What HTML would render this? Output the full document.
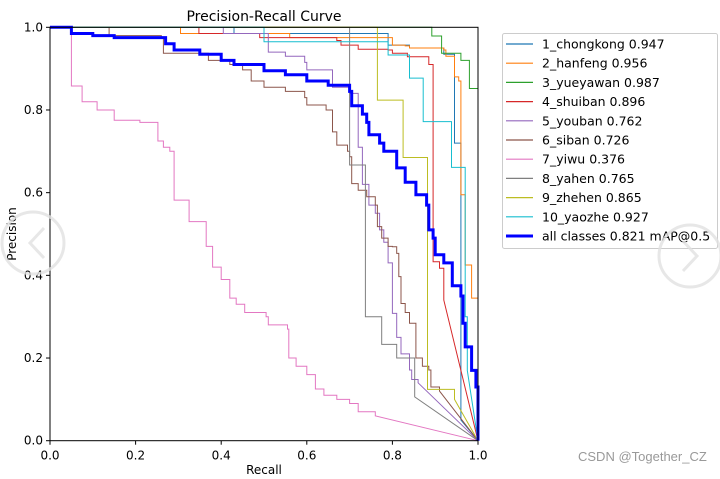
<!DOCTYPE html>
<html><head><meta charset="utf-8"><style>
body{margin:0;background:#fff;width:720px;height:474px;overflow:hidden;font-family:"Liberation Sans","DejaVu Sans",sans-serif}
svg text{font-family:"DejaVu Sans","Liberation Sans",sans-serif}
</style></head><body>
<svg id="chart" width="720" height="474" xmlns="http://www.w3.org/2000/svg"></svg>
<script>
const seriesNames=["1_chongkong 0.947","2_hanfeng 0.956","3_yueyawan 0.987","4_shuiban 0.896","5_youban 0.762","6_siban 0.726","7_yiwu 0.376","8_yahen 0.765","9_zhehen 0.865","10_yaozhe 0.927","all classes 0.821 mAP@0.5"];
const r1=[0,0.43,0.43,0.79,0.79,0.84,0.84,0.92,0.92,0.945,0.945,0.96,0.96,1];
const p1=[1,1,0.985,0.985,0.957,0.957,0.95,0.945,0.935,0.935,0.72,0.72,0.05,0];
const r2=[0,0.305,0.305,0.56,0.56,0.795,0.8,0.83,0.84,0.92,0.925,0.94,0.945,0.955,0.96,0.96,0.97,0.97,0.985,0.985,1,1];
const p2=[1,1,0.985,0.985,0.975,0.975,0.957,0.955,0.95,0.945,0.93,0.93,0.88,0.87,0.855,0.595,0.595,0.425,0.425,0.345,0.345,0];
const r3=[0,0.892,0.892,0.91,0.915,0.955,0.96,0.975,0.98,1,1];
const p3=[1,1,0.979,0.979,0.937,0.937,0.92,0.92,0.852,0.852,0];
const r4=[0,0.348,0.348,0.49,0.49,0.67,0.68,0.72,0.72,0.79,0.8,0.835,0.885,0.885,0.895,0.895,0.91,0.91,0.92,0.92,1];
const p4=[1,1,0.985,0.985,0.975,0.968,0.957,0.955,0.947,0.945,0.937,0.929,0.92,0.91,0.905,0.433,0.433,0.417,0.417,0.34,0];
const r5=[0,0.405,0.405,0.5,0.51,0.55,0.595,0.6,0.66,0.66,0.685,0.7,0.72,0.72,0.73,0.73,0.745,0.745,0.76,0.77,0.78,0.79,0.8,0.8,0.81,0.82,0.84,0.845,0.86,1];
const p5=[1,1,0.985,0.985,0.94,0.93,0.915,0.897,0.88,0.855,0.855,0.84,0.784,0.71,0.699,0.62,0.62,0.57,0.55,0.51,0.48,0.43,0.38,0.308,0.25,0.21,0.171,0.148,0.14,0];
const r6=[0,0.138,0.138,0.26,0.265,0.37,0.42,0.45,0.47,0.5,0.55,0.595,0.6,0.645,0.66,0.66,0.67,0.695,0.7,0.705,0.72,0.74,0.76,0.765,0.775,0.79,0.8,0.81,0.815,0.82,0.83,0.84,0.855,0.855,0.87,0.885,0.89,0.91,1];
const p6=[1,1,0.98,0.975,0.937,0.92,0.91,0.897,0.87,0.855,0.845,0.83,0.812,0.8,0.79,0.747,0.715,0.70,0.687,0.622,0.606,0.59,0.57,0.518,0.49,0.47,0.469,0.453,0.397,0.332,0.31,0.284,0.244,0.2,0.18,0.171,0.13,0.12,0];
const r7=[0,0.05,0.05,0.075,0.11,0.15,0.21,0.252,0.265,0.28,0.29,0.325,0.365,0.38,0.40,0.42,0.435,0.455,0.505,0.51,0.555,0.558,0.575,0.6,0.62,0.64,0.67,0.7,0.72,0.76,1];
const p7=[1,1,0.858,0.82,0.80,0.775,0.77,0.725,0.71,0.70,0.582,0.53,0.47,0.42,0.39,0.345,0.33,0.31,0.3,0.28,0.27,0.2,0.18,0.16,0.125,0.11,0.1,0.09,0.07,0.06,0];
const r8=[0,0.7,0.7,0.737,0.737,0.775,0.775,0.81,0.81,0.852,0.852,1];
const p8=[1,1,0.667,0.667,0.3,0.3,0.233,0.233,0.2,0.2,0.106,0];
const r9=[0,0.765,0.765,0.825,0.825,0.882,0.882,0.942,0.945,1];
const p9=[1,1,0.824,0.824,0.685,0.685,0.124,0.124,0.1,0];
const r10=[0,0.5,0.5,0.79,0.79,0.84,0.84,0.872,0.872,0.938,0.938,0.965,0.97,0.975,1];
const p10=[1,1,0.965,0.965,0.933,0.933,0.877,0.877,0.772,0.772,0.661,0.661,0.3,0.17,0];
const rAll=[0,0.05,0.1,0.15,0.25,0.27,0.29,0.35,0.4,0.43,0.5,0.55,0.6,0.65,0.7,0.705,0.73,0.74,0.745,0.77,0.78,0.81,0.83,0.855,0.88,0.885,0.895,0.9,0.92,0.94,0.96,0.965,0.97,0.985,0.995,1,1];
const pAll=[1,0.985,0.98,0.975,0.975,0.96,0.945,0.935,0.92,0.91,0.895,0.885,0.87,0.86,0.845,0.81,0.79,0.77,0.74,0.72,0.70,0.66,0.625,0.595,0.57,0.51,0.49,0.45,0.43,0.375,0.35,0.284,0.227,0.17,0.13,0.1,0];
const xTicks=[0,0.2,0.4,0.6,0.8,1.0];
const yTicks=[0,0.2,0.4,0.6,0.8,1.0];
const allR=[r1,r2,r3,r4,r5,r6,r7,r8,r9,r10,rAll];
const allP=[p1,p2,p3,p4,p5,p6,p7,p8,p9,p10,pAll];
const colors=["#1f77b4","#ff7f0e","#2ca02c","#d62728","#9467bd","#8c564b","#e377c2","#7f7f7f","#bcbd22","#17becf","#0000ff"];
const X0=50,X1=478,Y0=440.7,Y1=27.3;
const sx=v=>X0+(X1-X0)*v, sy=v=>Y0-(Y0-Y1)*v;
const svg=document.getElementById('chart'),NS="http://www.w3.org/2000/svg";
function mk(t,a,txt){const e=document.createElementNS(NS,t);for(const k in a)e.setAttribute(k,a[k]);if(txt!=null)e.textContent=txt;svg.appendChild(e);return e;}
const defs=mk('defs',{});const cp=document.createElementNS(NS,'clipPath');cp.setAttribute('id','cl');const cr=document.createElementNS(NS,'rect');cr.setAttribute('x',X0);cr.setAttribute('y',Y1-2);cr.setAttribute('width',X1-X0+2);cr.setAttribute('height',Y0-Y1+3);cp.appendChild(cr);defs.appendChild(cp);
for(let s=0;s<11;s++){
  const R=allR[s],P=allP[s],n=R.length;
  let d='M'+sx(R[0]).toFixed(1)+' '+sy(P[0]).toFixed(1);
  for(let i=1;i<n;i++){
    if(i<n-1){d+=' H'+sx(R[i]).toFixed(1)+' V'+sy(P[i]).toFixed(1);}
    else{d+=' L'+sx(R[i]).toFixed(1)+' '+sy(P[i]).toFixed(1);}
  }
  const e=mk('path',{d:d,fill:'none',stroke:colors[s],'stroke-width':s==10?3:1,'clip-path':'url(#cl)'});
  
  
}
const fr=mk('rect',{x:X0,y:Y1,width:X1-X0,height:Y0-Y1,fill:'none',stroke:'#000','stroke-width':1});


xTicks.forEach(v=>{mk('line',{x1:sx(v),x2:sx(v),y1:Y0,y2:Y0+4,stroke:'#000'});
  const t=mk('text',{x:sx(v),y:Y0+19,'font-size':12,'text-anchor':'middle'},v.toFixed(1));
  
  });
yTicks.forEach(v=>{mk('line',{x1:X0-4,x2:X0,y1:sy(v),y2:sy(v),stroke:'#000'});
  const t=mk('text',{x:X0-7,y:sy(v)+4,'font-size':12,'text-anchor':'end'},v.toFixed(1));
  
  });
let t=mk('text',{x:264,y:21,'font-size':14,'text-anchor':'middle'},'Precision-Recall Curve');


t=mk('text',{x:264,y:474,'font-size':12,'text-anchor':'middle'},'Recall');


t=mk('text',{x:16,y:234,'font-size':12,'text-anchor':'middle',transform:'rotate(-90 16 234)'},'Precision');


const lg=mk('rect',{x:502.5,y:33.5,width:215,height:215,rx:2,fill:'#fff',stroke:'#ccc'});


seriesNames.forEach((n,i)=>{const y=44+i*19.2;
  const l=mk('line',{x1:506,x2:533,y1:y,y2:y,stroke:colors[i],'stroke-width':i==10?3:1.2});
  
  
  const tx=mk('text',{x:542,y:y+4.5,'font-size':12.5},n);
  
  });
const c1=mk('circle',{cx:33,cy:243,r:31,fill:'none',stroke:'rgba(225,225,225,0.8)','stroke-width':3});


mk('path',{d:'M44 228 L30 243 L44 258',fill:'none',stroke:'rgba(225,225,225,0.8)','stroke-width':3});
const c2=mk('circle',{cx:690,cy:256,r:31,fill:'none',stroke:'rgba(225,225,225,0.8)','stroke-width':3});


mk('path',{d:'M683 241 L697 256 L683 271',fill:'none',stroke:'rgba(225,225,225,0.8)','stroke-width':3});
t=mk('text',{x:578,y:461,'font-size':13,fill:'#999',style:'font-family:"Liberation Sans",sans-serif'},'CSDN @Together_CZ');


</script>
</body></html>
